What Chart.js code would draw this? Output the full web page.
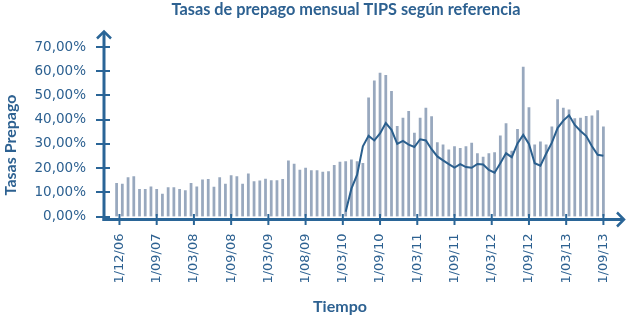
<!DOCTYPE html>
<html>
<head>
<meta charset="utf-8">
<script src="https://cdn.jsdelivr.net/npm/chart.js@4/dist/chart.umd.min.js"></script>
<style>
html,body{margin:0;padding:0;background:#ffffff;}
#wrap{width:629px;height:321px;position:relative;}
</style>
</head>
<body>
<div id="wrap"><canvas id="c" width="629" height="321"></canvas></div>
<script>
// ---- data ----
const chartTitle = 'Tasas de prepago mensual TIPS según referencia';
const yTitle = 'Tasas Prepago';
const xTitle = 'Tiempo';

// x-axis tick labels (one every 6.5 periods in the reference)
const tickLabels = ['1/12/06','1/09/07','1/03/08','1/09/08','1/03/09','1/08/09','1/03/10',
                    '1/09/10','1/03/11','1/09/11','1/03/12','1/09/12','1/03/13','1/09/13'];

// monthly prepayment rate (%), gray bars, 86 periods
const barValues = [
  13.7,13.4,16.1,16.5,11.2,11.2,12.3,11.2, 9.3,11.9,
  11.9,11.2,10.7,13.7,12.3,15.1,15.4,12.1,16.1,13.4,
  16.9,16.5,13.4,17.6,14.4,14.7,15.5,14.8,14.8,15.4,
  23.0,21.6,19.2,20.0,19.0,19.0,18.3,18.5,21.1,22.5,
  22.7,23.4,22.7,22.0,49.0,56.0,59.2,58.3,51.7,37.2,
  40.6,43.4,34.4,40.6,44.8,41.3,30.5,29.6,27.5,28.9,
  28.2,28.9,30.3,26.0,24.5,26.0,26.4,33.3,38.4,27.0,
  36.0,61.7,45.0,29.6,30.8,29.6,37.0,48.3,44.8,44.1,
  40.4,40.6,41.4,41.6,43.7,37.0
];

// blue line (%), starts at period 40
const lineStart = 40;
const lineValues = [
   2.0,11.5,17.3,29.0,33.3,31.4,34.3,38.6,35.8,30.0,
  31.2,29.7,28.7,31.9,31.4,27.8,24.8,23.2,21.6,20.2,
  21.6,20.4,20.1,21.7,21.5,19.2,18.1,22.0,26.1,24.5,
  30.2,33.7,30.0,22.0,21.0,25.9,30.5,36.5,39.6,41.8,
  37.8,35.3,33.2,29.0,25.5,25.1
];

const yTickValues = [0,10,20,30,40,50,60,70];

// ---- styling ----
const AXIS = '#2a6597';
const TEXT = '#2d6191';
const BAR = '#98a8be';
const LINE = '#2a5f8e';

const periods = barValues.map((_, i) => i);
const barData = periods.map(i => ({x: i, y: barValues[i]}));
const lineData = lineValues.map((v, k) => ({x: lineStart + k, y: v}));
const tickPositions = tickLabels.map((_, k) => 0.5 + 6.5 * k);

const decorPlugin = {
  id: 'decor',
  afterDatasetsDraw(chart) {
    const {ctx, chartArea: a, scales: {x, y}} = chart;
    const axY = a.bottom + 3;
    const axX = a.left;
    ctx.save();
    ctx.strokeStyle = AXIS;
    ctx.lineCap = 'butt';
    ctx.lineJoin = 'miter';
    // tick marks
    ctx.lineWidth = 2;
    yTickValues.forEach(v => {
      const py = Math.round(y.getPixelForValue(v));
      ctx.beginPath(); ctx.moveTo(axX - 8, py); ctx.lineTo(axX + 6, py); ctx.stroke();
    });
    tickPositions.forEach(p => {
      const px = x.getPixelForValue(p);
      ctx.beginPath(); ctx.moveTo(px, axY - 5.5); ctx.lineTo(px, axY + 5.5); ctx.stroke();
    });
    // axis lines
    ctx.lineWidth = 3;
    ctx.beginPath(); ctx.moveTo(axX, axY + 1.5); ctx.lineTo(axX, a.top - 15); ctx.stroke();
    ctx.beginPath(); ctx.moveTo(axX - 1.5, axY); ctx.lineTo(chart.width - 6, axY); ctx.stroke();
    // arrow heads
    ctx.lineWidth = 2.5;
    ctx.beginPath();
    ctx.moveTo(axX - 7, a.top - 8.5); ctx.lineTo(axX, a.top - 15.5); ctx.lineTo(axX + 7, a.top - 8.5);
    ctx.stroke();
    const tipX = chart.width - 5;
    ctx.beginPath();
    ctx.moveTo(tipX - 7, axY - 7); ctx.lineTo(tipX, axY); ctx.lineTo(tipX - 7, axY + 7);
    ctx.stroke();
    ctx.restore();
  },
  afterDraw(chart) {
    const {ctx} = chart;
    ctx.save();
    ctx.fillStyle = TEXT;
    ctx.textAlign = 'center';
    ctx.textBaseline = 'middle';
    ctx.font = 'bold 16.3px Lato';
    ctx.fillText(chartTitle, 346, 10);
    ctx.font = 'bold 16px Lato';
    ctx.fillText(xTitle, 340, 307);
    ctx.translate(11, 145);
    ctx.rotate(-Math.PI / 2);
    ctx.fillText(yTitle, 0, 0);
    ctx.restore();
  }
};

new Chart(document.getElementById('c'), {
  data: {
    datasets: [
      {
        type: 'line',
        data: lineData,
        borderColor: LINE,
        borderWidth: 2,
        pointRadius: 0,
        tension: 0,
        fill: false,
        order: 0
      },
      {
        type: 'bar',
        data: barData,
        backgroundColor: BAR,
        borderWidth: 0,
        barThickness: 2.1,
        order: 1
      }
    ]
  },
  options: {
    responsive: false,
    animation: false,
    events: [],
    layout: {padding: {left: 0, right: 17, top: 47, bottom: 0}},
    plugins: {legend: {display: false}, tooltip: {enabled: false}, title: {display: false}},
    scales: {
      x: {
        type: 'linear',
        min: -2.2,
        max: 86.5,
        offset: false,
        grid: {display: false, offset: false},
        border: {display: false},
        afterBuildTicks(scale) { scale.ticks = tickPositions.map(v => ({value: v})); },
        afterFit(scale) { scale.height = 104.5; },
        ticks: {
          autoSkip: false,
          minRotation: 90,
          maxRotation: 90,
          padding: 9,
          color: TEXT,
          font: {family: 'DejaVu Sans', size: 13},
          callback: (v, i) => tickLabels[i]
        }
      },
      y: {
        type: 'linear',
        min: 0,
        max: 70,
        grid: {display: false},
        border: {display: false},
        afterBuildTicks(scale) { scale.ticks = yTickValues.map(v => ({value: v})); },
        afterFit(scale) { scale.width = 104; },
        ticks: {
          padding: 10,
          color: TEXT,
          font: {family: 'DejaVu Sans', size: 13.5},
          callback: v => v.toFixed(2).replace('.', ',') + '%'
        }
      }
    }
  },
  plugins: [decorPlugin]
});
</script>
</body>
</html>
